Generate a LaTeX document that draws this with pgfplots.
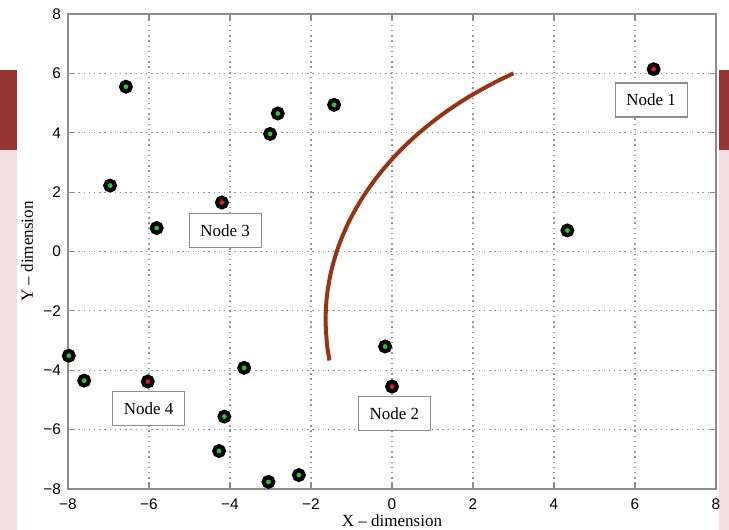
\documentclass[border=0pt]{standalone}
\usepackage{fontspec}
\setmainfont{Liberation Serif}
\newfontfamily\arial{Liberation Sans}
\usepackage{pgfplots}
\pgfplotsset{compat=1.18}
\definecolor{slidered}{RGB}{150,52,52}
\definecolor{slidepink}{RGB}{242,222,222}
\definecolor{arcbrown}{RGB}{150,52,20}
\definecolor{nodegreen}{RGB}{35,205,35}
\definecolor{nodered}{RGB}{225,25,25}
\definecolor{axgray}{RGB}{140,140,140}
\definecolor{gridgray}{RGB}{150,150,150}
\begin{document}
\begin{tikzpicture}
\path[use as bounding box, fill=white] (-34pt,-20.5pt) rectangle (330.5pt,244.5pt);
\fill[slidered] (-34pt,169.5pt) rectangle (-25.5pt,209.5pt);
\fill[slidepink] (-34pt,-20.5pt) rectangle (-25.5pt,169.5pt);
\fill[slidered] (325.5pt,169.5pt) rectangle (330.5pt,209.5pt);
\fill[slidepink] (325.5pt,-20.5pt) rectangle (330.5pt,169.5pt);
\begin{axis}[
  at={(0,0)}, anchor=south west,
  width=324pt, height=237.5pt, scale only axis,
  xmin=-8, xmax=8, ymin=-8, ymax=8,
  xtick={-8,-6,-4,-2,0,2,4,6,8}, ytick={-8,-6,-4,-2,0,2,4,6,8},
  xticklabels={−8,−6,−4,−2,0,2,4,6,8},
  yticklabels={−8,−6,−4,−2,0,2,4,6,8},
  tick align=inside, tick pos=both, major tick length=3pt,
  grid=major,
  grid style={gridgray, line width=0.6pt, dash pattern=on 0.7pt off 1.9pt},
  axis line style={axgray, line width=0.7pt},
  every tick/.style={axgray, line width=0.6pt},
  tick label style={font=\arial\fontsize{7.7}{9}\selectfont, black},
  xticklabel style={yshift=-1.5pt},
  xlabel={X -- dimension}, ylabel={Y -- dimension},
  label style={font=\fontsize{8.5}{10}\selectfont},
  xlabel style={at={(axis description cs:0.5,0)}, anchor=north, yshift=-9.5pt},
  ylabel style={at={(axis description cs:0,0.5)}, anchor=center, rotate=0, yshift=20.5pt},
]
\addplot[arcbrown, line width=2pt, smooth] coordinates {
  (3.0,6.0) (2.513,5.679) (1.839,5.161) (1.213,4.587) (0.639,3.961)
  (0.121,3.287) (-0.335,2.57) (-0.727,1.816) (-1.053,1.031) (-1.308,0.221)
  (-1.492,-0.609) (-1.603,-1.451) (-1.64,-2.3) (-1.603,-3.149) (-1.543,-3.672)
};
\addplot[only marks, mark=*, mark size=2.4pt,
  mark options={fill=nodegreen, draw=black, line width=2.1pt}] coordinates {
  (-6.57,5.55) (-6.96,2.22) (-5.81,0.79) (-2.82,4.65) (-3.01,3.96)
  (-1.43,4.94) (4.33,0.71) (-0.17,-3.2) (-7.98,-3.51) (-7.6,-4.35)
  (-3.65,-3.92) (-4.14,-5.56) (-4.27,-6.72) (-3.05,-7.76) (-2.30,-7.53)
};
\addplot[only marks, mark=*, mark size=2.4pt,
  mark options={fill=nodered, draw=black, line width=2.1pt}] coordinates {
  (6.46,6.14) (-4.20,1.65) (-6.03,-4.38) (0.0,-4.55)
};
\tikzset{nodebox/.style={draw=axgray, fill=white, line width=0.6pt,
  minimum width=36pt, minimum height=17pt, inner sep=0pt,
  font=\fontsize{8.5}{10}\selectfont}}
\node[nodebox] at (axis cs:6.40,5.10) {Node 1};
\node[nodebox] at (axis cs:-4.12,0.71) {Node 3};
\node[nodebox] at (axis cs:-6.01,-5.28) {Node 4};
\node[nodebox] at (axis cs:0.06,-5.45) {Node 2};
\end{axis}
\end{tikzpicture}
\end{document}
